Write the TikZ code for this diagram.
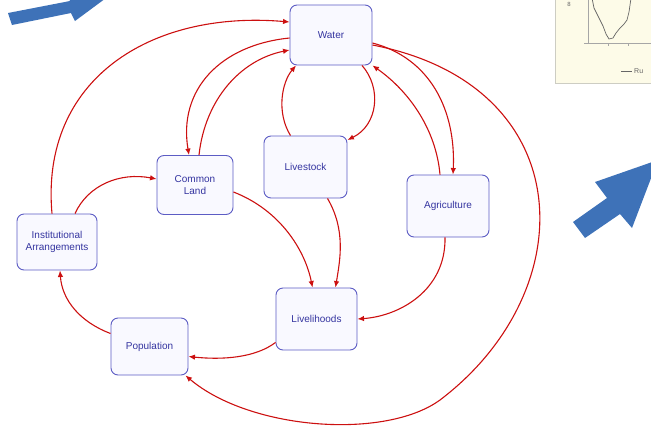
\documentclass[tikz,border=0pt]{standalone}
\usepackage{fontspec}
\setmainfont{Liberation Sans}
\usetikzlibrary{arrows.meta}
\definecolor{arrowred}{RGB}{204,16,16}
\definecolor{boxline}{RGB}{92,92,196}
\definecolor{boxfill}{RGB}{249,249,255}
\definecolor{boxtext}{RGB}{52,52,160}
\definecolor{bigblue}{RGB}{62,114,184}
\definecolor{chartfill}{RGB}{253,251,232}
\definecolor{chartline}{RGB}{205,205,195}
\tikzset{
  box/.style={draw=boxline, line width=0.9pt, fill=boxfill, rounded corners=7pt,
    text=boxtext, font=\fontsize{10}{12}\selectfont, align=center, inner sep=2pt},
  link/.style={draw=arrowred, line width=1.1pt, -{Latex[length=6.5pt,width=5.5pt]}},
  bluearrow/.style={fill=bigblue, draw=none},
}
\begin{document}
\begin{tikzpicture}[x=1pt,y=-1pt]
\useasboundingbox (0,0) rectangle (651,429);
\clip (0,0) rectangle (651,429);
% decorative blue arrows
\fill[bluearrow] (8,13) -- (70,1) -- (66,-10) -- (125,-16) -- (75,21) -- (71,13) -- (12,25) -- cycle;
\fill[bluearrow] (573,222) -- (607,198) -- (595,182) -- (658,160) -- (632,228) -- (620,214) -- (585,238) -- cycle;
% partial chart
\filldraw[fill=chartfill, draw=chartline, line width=0.8pt] (555,-10) rectangle (680,83);
\draw[gray!70, line width=0.6pt] (588,-10) -- (588,43) -- (660,43);
\draw[gray!70, line width=0.5pt] (584,43) -- (588,43) (608,43) -- (608,46) (628,43) -- (628,46);
\draw[gray!80!black, line width=0.7pt] (592,-2) -- (594,8) -- (597,14) -- (600,20) -- (603,26)
  -- (606,34) -- (609,39) -- (613,38) -- (616,33) -- (620,28) -- (624,24) -- (627,20) -- (629,12) -- (631,-2);
\draw[gray!80!black, line width=0.7pt] (621,71) -- (632,71);
\node[font=\fontsize{7}{8}\selectfont, text=gray!80!black, anchor=west, inner sep=0pt] (rulabel) at (634,71) {Ru};
\node[font=\fontsize{6}{7}\selectfont, text=gray!80!black, inner sep=0pt] (ylab) at (569,4) {8};
% nodes
\node[box, minimum width=82pt, minimum height=60pt] (water) at (331,35) {Water};
\node[box, minimum width=76pt, minimum height=59pt] (common) at (195,185) {Common\\Land};
\node[box, minimum width=83pt, minimum height=62pt] (livestock) at (305.5,167) {Livestock};
\node[box, minimum width=82pt, minimum height=62pt] (agri) at (448,206) {Agriculture};
\node[box, minimum width=80pt, minimum height=56pt] (inst) at (57,242) {Institutional\\Arrangements};
\node[box, minimum width=81pt, minimum height=62pt] (liveli) at (316.5,319) {Livelihoods};
\node[box, minimum width=77pt, minimum height=57pt] (pop) at (149.5,346.5) {Population};
% connectors
\draw[link] ([xshift=-5pt]inst.north) .. controls (40,80) and (150,10) .. ([yshift=13pt]water.west);
\draw[link] ([xshift=18pt]inst.north) .. controls (88,185) and (120,172) .. ([yshift=6pt]common.west);
\draw[link] ([yshift=-3pt]water.west) .. controls (220,45) and (178,90) .. ([xshift=-6pt]common.north);
\draw[link] ([xshift=4pt]common.north) .. controls (205,100) and (240,60) .. ([yshift=-15pt]water.west);
\draw[link] ([xshift=-15pt]livestock.north) .. controls (276,112) and (282,82) .. ([xshift=-35pt]water.south);
\draw[link] ([xshift=31pt]water.south) .. controls (382,88) and (378,125) .. ([yshift=27pt]livestock.east);
\draw[link] ([yshift=-8pt]water.east) .. controls (430,58) and (456,110) .. ([xshift=5pt]agri.north);
\draw[link] ([xshift=-8pt]agri.north) .. controls (436,130) and (410,92) .. (water.south east);
\draw[link] ([yshift=-10pt]water.east) .. controls (580,85) and (585,290) .. (440,400)
  .. controls (385,440) and (250,430) .. ([xshift=-3pt]pop.south east);
\draw[link] ([xshift=22pt]livestock.south) .. controls (346,230) and (340,260) .. ([xshift=19pt]liveli.north);
\draw[link] ([yshift=-7pt]common.east) .. controls (280,210) and (305,250) .. ([xshift=-4pt]liveli.north);
\draw[link] ([xshift=-3pt]agri.south) .. controls (446,290) and (400,316) .. (liveli.east);
\draw[link] ([yshift=8pt]liveli.south west) .. controls (255,358) and (222,360) .. ([yshift=-10pt]pop.east);
\draw[link] ([yshift=13pt]pop.west) .. controls (80,322) and (62,300) .. ([xshift=3pt]inst.south);
\end{tikzpicture}
\end{document}
